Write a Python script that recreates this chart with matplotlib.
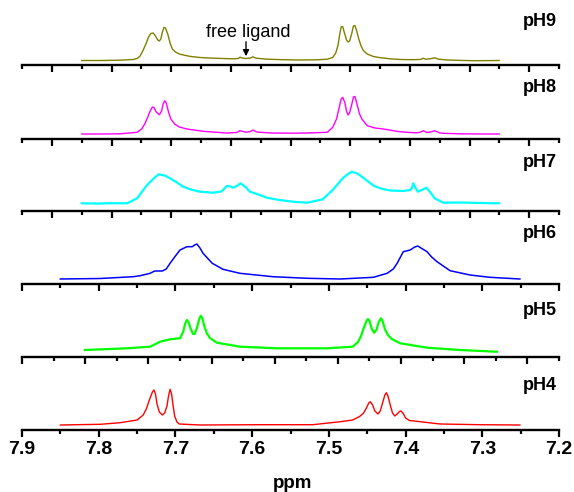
import matplotlib.pyplot as plt
from matplotlib.ticker import FixedLocator, NullFormatter, FixedFormatter

plt.rcParams['font.family'] = ['Liberation Sans', 'DejaVu Sans']

# spectra (ppm, height above panel baseline in px)
ppm9 = [7.822, 7.798, 7.772, 7.755, 7.750, 7.746, 7.742, 7.738, 7.735, 7.732,
        7.729, 7.726, 7.723, 7.721, 7.719, 7.717, 7.715, 7.713, 7.710, 7.707,
        7.704, 7.700, 7.695, 7.688, 7.680, 7.668, 7.650, 7.625, 7.618, 7.616,
        7.612, 7.608, 7.602, 7.599, 7.595, 7.580, 7.560, 7.538, 7.515, 7.502,
        7.495, 7.491, 7.488, 7.486, 7.484, 7.482, 7.480, 7.477, 7.475, 7.473,
        7.470, 7.468, 7.466, 7.464, 7.461, 7.458, 7.455, 7.450, 7.442, 7.433,
        7.420, 7.407, 7.390, 7.380, 7.377, 7.374, 7.368, 7.362, 7.357, 7.345,
        7.329, 7.310, 7.290, 7.278]
int9 = [4.5, 4.5, 4.8, 5.5, 6.5, 9, 15, 22, 28, 31.5,
        32, 29, 25, 24, 26, 33, 37.5, 37, 31, 22,
        16, 13, 11, 9.7, 8.5, 7.5, 6.8, 6.2, 6.5, 7.8,
        6.8, 6.5, 7, 8.2, 6.8, 5.8, 5.3, 5, 5.2, 5.8,
        7.5, 12, 20, 30, 38, 38.5, 33, 25, 23, 24,
        32, 39, 39.5, 35, 26, 19, 14.5, 11, 8.5, 7.3,
        6.2, 5.5, 5.3, 5.6, 6.8, 5.8, 6.2, 7.2, 5.8, 5,
        4.6, 4.3, 4.4, 4.5]

ppm8 = [7.822, 7.798, 7.772, 7.750, 7.744, 7.740, 7.736, 7.733, 7.730, 7.728,
        7.725, 7.721, 7.718, 7.716, 7.714, 7.712, 7.709, 7.706, 7.701, 7.695,
        7.685, 7.664, 7.633, 7.620, 7.616, 7.608, 7.602, 7.599, 7.594, 7.575,
        7.547, 7.520, 7.502, 7.495, 7.490, 7.487, 7.484, 7.482, 7.479, 7.477,
        7.475, 7.473, 7.470, 7.468, 7.466, 7.463, 7.460, 7.457, 7.450, 7.440,
        7.429, 7.410, 7.398, 7.385, 7.380, 7.377, 7.372, 7.366, 7.362, 7.356,
        7.351, 7.330, 7.300, 7.278]
int8 = [5, 5, 5.2, 6.7, 10, 15, 22, 28, 32, 31.5,
        27, 24.3, 28, 35, 38.3, 36, 27, 20, 15, 12,
        10, 7.7, 6, 6.5, 8.3, 6.8, 7.5, 9, 7, 6,
        5.8, 6.2, 6.7, 11.7, 20, 30, 40, 41.7, 36, 28,
        24, 26, 35, 42, 42.5, 34, 25, 20, 13.3, 11,
        10, 7.5, 6.7, 6.2, 7, 8.3, 6.5, 7.2, 8.3, 6.2,
        5.7, 5.2, 5, 5]

ppm7 = [7.822, 7.800, 7.780, 7.763, 7.750, 7.737, 7.729, 7.722, 7.714, 7.707,
        7.698, 7.690, 7.680, 7.668, 7.651, 7.640, 7.633, 7.628, 7.625, 7.620,
        7.615, 7.608, 7.603, 7.590, 7.581, 7.565, 7.547, 7.528, 7.508, 7.495,
        7.482, 7.475, 7.470, 7.463, 7.457, 7.448, 7.441, 7.430, 7.420, 7.403,
        7.394, 7.392, 7.390, 7.387, 7.384, 7.379, 7.373, 7.368, 7.362, 7.351,
        7.329, 7.300, 7.278]
int7 = [7.7, 7.5, 7.8, 7.7, 12.7, 26, 32, 36.7, 35.5, 32.7,
        28.5, 24.3, 21.5, 19.3, 18.3, 19.5, 25, 24.5, 23.3, 25,
        27.7, 23.5, 19.3, 16, 13.3, 11, 9.3, 8.3, 11.7, 21,
        32.7, 37, 39.3, 37.5, 34.3, 29, 25, 22, 20.5, 20,
        21, 22.5, 27.7, 23, 19.3, 21, 23.3, 19, 12.7, 8.3,
        8.5, 8, 7.7]

ppm6 = [7.850, 7.798, 7.755, 7.746, 7.733, 7.727, 7.717, 7.712, 7.707, 7.701,
        7.694, 7.685, 7.678, 7.675, 7.672, 7.668, 7.664, 7.652, 7.638, 7.616,
        7.573, 7.528, 7.485, 7.442, 7.424, 7.416, 7.411, 7.403, 7.394, 7.388,
        7.384, 7.380, 7.372, 7.366, 7.359, 7.342, 7.316, 7.290, 7.251]
int6 = [5, 5.5, 7.3, 8.3, 10.7, 13, 13, 15, 20.7, 27,
        34, 37.3, 37.3, 39, 40, 36, 30.7, 20.7, 14.7, 10.7,
        7.3, 5.7, 5, 6.7, 10.7, 15, 20.7, 32.3, 34, 37,
        38, 36, 32.3, 27, 22.3, 13.3, 9, 6.7, 5]

ppm5 = [7.818, 7.763, 7.733, 7.720, 7.707, 7.697, 7.694, 7.690, 7.687, 7.685,
        7.683, 7.680, 7.677, 7.675, 7.672, 7.669, 7.667, 7.665, 7.662, 7.659,
        7.655, 7.646, 7.616, 7.568, 7.502, 7.469, 7.462, 7.458, 7.455, 7.451,
        7.449, 7.447, 7.444, 7.441, 7.438, 7.435, 7.432, 7.430, 7.427, 7.423,
        7.418, 7.407, 7.372, 7.329, 7.281]
int5 = [7, 8.7, 10.3, 15.3, 17.7, 18.5, 18.7, 25, 34, 37,
        35, 28, 23, 23, 29, 38, 41.3, 39, 30, 23.7,
        19, 14.3, 10.3, 8.7, 8.7, 10.3, 15, 21, 28, 36,
        38, 36, 28, 24.3, 27, 35, 38.7, 36, 28, 22,
        18, 13.7, 9.3, 7, 5.3]

ppm4 = [7.850, 7.798, 7.772, 7.750, 7.742, 7.738, 7.734, 7.730, 7.728, 7.726,
        7.724, 7.721, 7.717, 7.714, 7.711, 7.709, 7.707, 7.705, 7.703, 7.701,
        7.698, 7.695, 7.668, 7.590, 7.521, 7.485, 7.469, 7.460, 7.455, 7.451,
        7.448, 7.446, 7.443, 7.440, 7.436, 7.433, 7.430, 7.427, 7.425, 7.423,
        7.420, 7.417, 7.414, 7.411, 7.408, 7.406, 7.403, 7.400, 7.395, 7.381,
        7.355, 7.303, 7.251]
int4 = [5, 5.7, 7.3, 10, 15, 21, 30, 38, 40, 36,
        26, 18, 15, 17, 24, 34, 40.7, 36, 24, 14,
        8, 6, 5, 5.3, 5.3, 8.3, 10, 13.5, 16.7, 22,
        27, 28.3, 25, 19, 16, 19, 27, 35, 37.3, 34,
        25, 17, 14, 16, 18.5, 19, 16.5, 12, 9.5, 8.3,
        6, 5.3, 5]

labels = ['pH9', 'pH8', 'pH7', 'pH6', 'pH5', 'pH4']
colors = ['#808000', '#ff00ff', '#00ffff', '#0000ff', '#00ff00', '#ff0000']
xs = [ppm9, ppm8, ppm7, ppm6, ppm5, ppm4]
ys = [int9, int8, int7, int6, int5, int4]
tick_labels = ['7.9', '7.8', '7.7', '7.6', '7.5', '7.4', '7.3', '7.2']

# layout (pixels)
W, H = 574.0, 492.0
x0, x1 = 22, 559
base_y = [65, 139, 211, 284, 357, 430]
lab_off = [39, 47, 44, 46, 42, 40]
n_int = [18, 18, 18, 14, 17, 14]
major_first = [1, 1, 1, 0, 0, 0]
lws = [1.0, 1.0, 1.6, 1.1, 1.6, 1.0]

fig = plt.figure(figsize=(5.74, 4.92), dpi=100)

for i in range(6):
    ax = fig.add_axes([x0 / W, (H - base_y[i]) / H, (x1 - x0) / W, 70 / H])
    ax.patch.set_visible(False)
    ax.plot(xs[i], ys[i], color=colors[i], lw=lws[i], solid_joinstyle='round')
    ax.set_xlim(7.9, 7.2)
    ax.set_ylim(0, 70)
    for s in ['top', 'right', 'left']:
        ax.spines[s].set_visible(False)
    ax.spines['bottom'].set_linewidth(1.7)
    ax.set_yticks([])
    pos = [7.9 - k * 0.7 / n_int[i] for k in range(n_int[i] + 1)]
    majors = [p for k, p in enumerate(pos) if k % 2 == major_first[i]]
    minors = [p for k, p in enumerate(pos) if k % 2 != major_first[i]]
    ax.xaxis.set_major_locator(FixedLocator(majors))
    ax.xaxis.set_minor_locator(FixedLocator(minors))
    ax.tick_params(axis='x', which='major', direction='out', length=5, width=1.6)
    ax.tick_params(axis='x', which='minor', direction='out', length=3, width=1.6)
    if i < 5:
        ax.xaxis.set_major_formatter(NullFormatter())
    else:
        ax.xaxis.set_major_formatter(FixedFormatter(tick_labels))
        ax.tick_params(axis='x', which='major', labelsize=14, pad=3)
        for t in ax.get_xticklabels():
            t.set_fontweight('bold')
    ax.text(7.2026, lab_off[i], labels[i], ha='right', va='baseline',
            fontsize=13, fontweight='bold')
    if i == 0:
        ax.annotate('', xy=(7.608, 6), xytext=(7.608, 26),
                    arrowprops=dict(arrowstyle='-|>', color='k', lw=1, mutation_scale=9))
        ax.text(7.605, 28, 'free ligand', ha='center', va='baseline', fontsize=13)

fig.text(292.5 / W, 4 / H, 'ppm', ha='center', va='baseline', fontsize=13.5, fontweight='bold')

fig.savefig('out.png', dpi=100)
